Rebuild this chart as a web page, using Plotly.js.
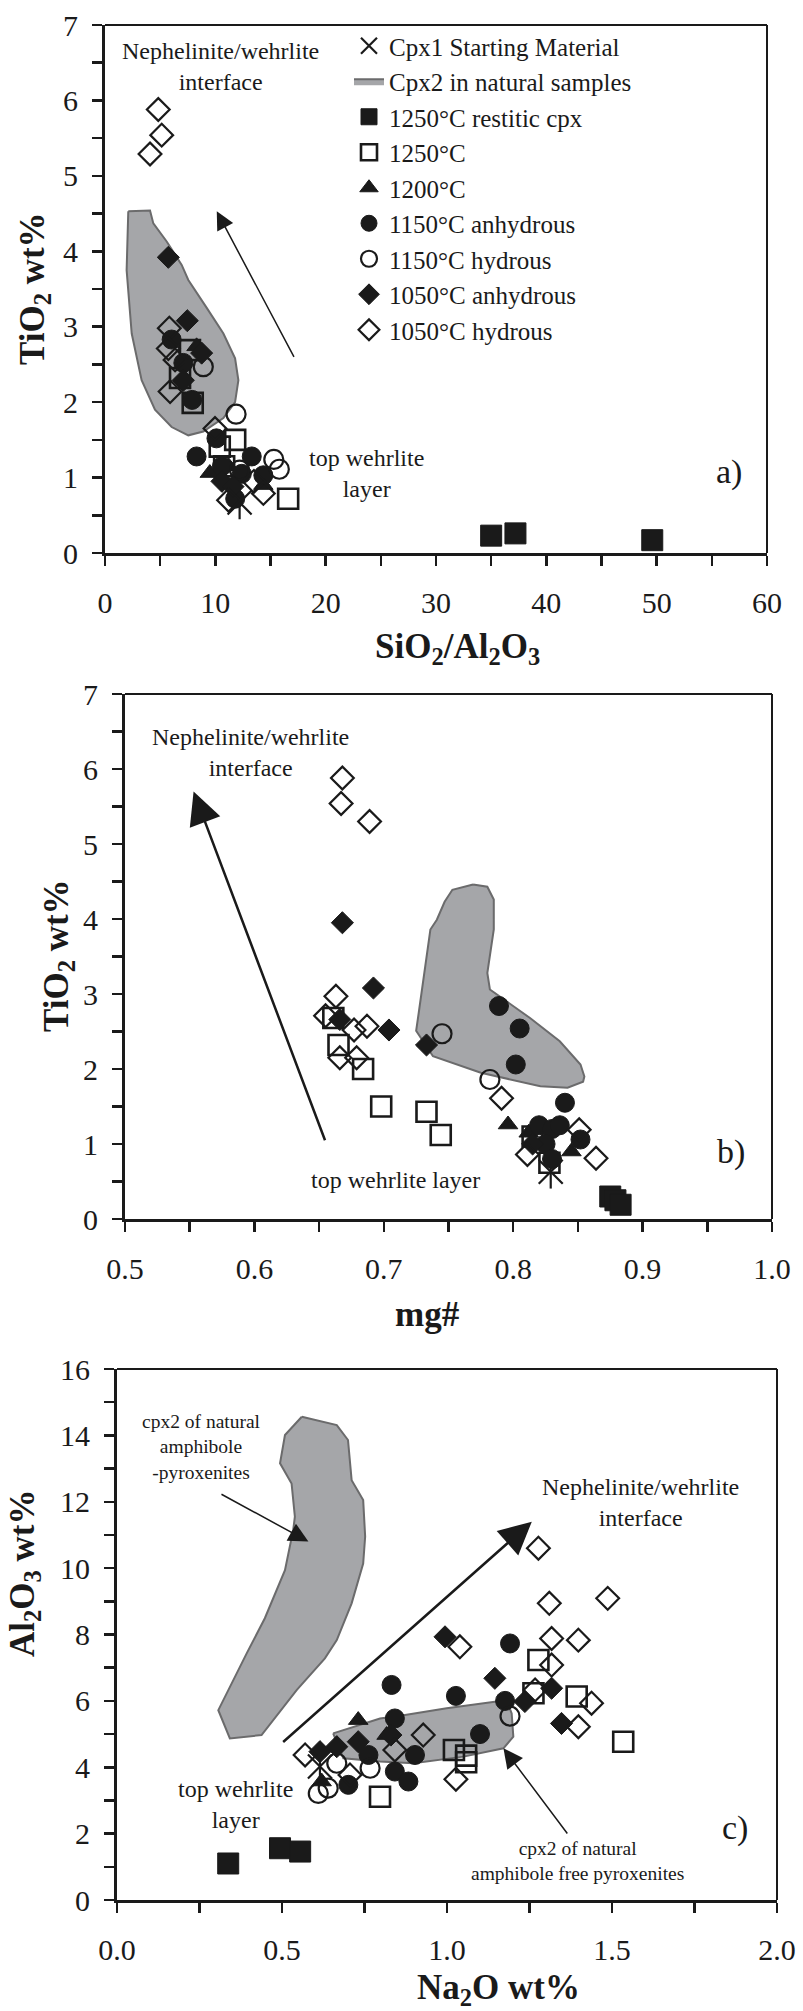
<!DOCTYPE html>
<html><head><meta charset="utf-8">
<script src="https://cdn.plot.ly/plotly-3.0.1.min.js"></script>
<style>html,body{margin:0;padding:0;background:#fff}</style>
</head><body>
<div id="chart" style="width:803px;height:2011px"></div>
<script>
// ---------- legend / series names ----------
const seriesNames = ["Cpx1 Starting Material", "Cpx2 in natural samples", "1250°C restitic cpx", "1250°C",
  "1200°C", "1150°C anhydrous", "1150°C hydrous", "1050°C anhydrous", "1050°C hydrous"];

// ---------- panel a: SiO2/Al2O3 vs TiO2 ----------
const aStarX = [12.2], aStarY = [0.67];
const aRestX = [35.0, 37.2, 49.6], aRestY = [0.23, 0.26, 0.17];
const a1250X = [7.7, 6.8, 7.95, 11.8, 10.4, 16.6, 10.8], a1250Y = [2.69, 2.32, 1.99, 1.50, 1.41, 0.72, 1.15];
const a1200X = [8.3, 9.5, 14.35, 11.2], a1200Y = [2.74, 1.06, 0.90, 1.15];
const a1150aX = [6.04, 7.1, 7.9, 10.1, 8.3, 13.3, 14.35, 11.8, 10.6, 12.4], a1150aY = [2.83, 2.52, 2.03, 1.52, 1.28, 1.28, 1.03, 0.72, 1.15, 1.05];
const a1150hX = [8.91, 11.88, 15.3, 15.8, 12.2], a1150hY = [2.47, 1.84, 1.24, 1.11, 1.10];
const a1050aX = [5.74, 7.46, 8.76, 7.1, 10.6, 11.6], a1050aY = [3.92, 3.08, 2.65, 2.29, 0.95, 0.88];
const a1050hX = [4.83, 5.14, 4.08, 5.83, 5.74, 6.35, 5.9, 9.97, 13.5, 14.35, 11.2], a1050hY = [5.88, 5.54, 5.29, 2.98, 2.71, 2.56, 2.14, 1.65, 0.95, 0.79, 0.70];
const aFieldX = [2.11, 4.08, 4.38, 5.59, 6.95, 7.55, 9.22, 10.73, 11.79, 12.09, 11.79, 10.73, 8.91, 7.55, 6.04, 4.53, 3.32, 2.42, 1.96, 2.11];
const aFieldY = [4.53, 4.54, 4.37, 4.13, 3.82, 3.62, 3.25, 2.91, 2.58, 2.29, 2.00, 1.79, 1.61, 1.56, 1.67, 1.90, 2.29, 2.91, 3.75, 4.53];

// ---------- panel b: mg# vs TiO2 ----------
const bStarX = [0.829], bStarY = [0.63];
const bRestX = [0.875, 0.879, 0.883], bRestY = [0.30, 0.25, 0.19];
const b1250X = [0.661, 0.665, 0.684, 0.698, 0.733, 0.744, 0.815, 0.828], b1250Y = [2.68, 2.32, 2.00, 1.50, 1.43, 1.12, 1.10, 0.75];
const b1200X = [0.796, 0.845, 0.812], b1200Y = [1.26, 0.90, 1.15];
const b1150aX = [0.789, 0.805, 0.802, 0.840, 0.852, 0.820, 0.830, 0.825, 0.830, 0.836], b1150aY = [2.84, 2.54, 2.06, 1.55, 1.06, 1.25, 1.20, 1.00, 0.80, 1.25];
const b1150hX = [0.745, 0.782], b1150hY = [2.47, 1.86];
const b1050aX = [0.668, 0.692, 0.666, 0.704, 0.733, 0.815], b1050aY = [3.95, 3.08, 2.66, 2.52, 2.32, 1.00];
const b1050hX = [0.668, 0.667, 0.689, 0.663, 0.655, 0.677, 0.687, 0.666, 0.679, 0.791, 0.851, 0.811, 0.864], b1050hY = [5.88, 5.54, 5.30, 2.97, 2.71, 2.52, 2.57, 2.15, 2.15, 1.61, 1.19, 0.86, 0.81];
const bFieldX = [0.769, 0.780, 0.785, 0.785, 0.780, 0.782, 0.813, 0.836, 0.852, 0.855, 0.854, 0.842, 0.821, 0.775, 0.738, 0.725, 0.727, 0.736, 0.741, 0.747, 0.753, 0.769];
const bFieldY = [4.46, 4.43, 4.26, 3.86, 3.28, 3.06, 2.68, 2.37, 2.06, 1.90, 1.83, 1.75, 1.77, 1.95, 2.17, 2.51, 2.75, 3.86, 3.99, 4.23, 4.39, 4.46];

// ---------- panel c: Na2O vs Al2O3 ----------
const cStarX = [0.615], cStarY = [4.02];
const cRestX = [0.337, 0.494, 0.555], cRestY = [1.10, 1.56, 1.46];
const c1250X = [1.277, 1.262, 1.393, 1.534, 1.021, 1.058, 1.058, 0.797], c1250Y = [7.23, 6.23, 6.13, 4.77, 4.52, 4.35, 4.15, 3.11];
const c1200X = [0.731, 0.817, 0.620], c1200Y = [5.42, 4.97, 3.57];
const c1150aX = [1.191, 0.832, 1.027, 1.176, 0.842, 1.100, 0.903, 0.762, 0.842, 0.883, 0.701], c1150aY = [7.73, 6.48, 6.15, 6.00, 5.47, 5.00, 4.37, 4.37, 3.87, 3.57, 3.47];
const c1150hX = [1.191, 0.666, 0.767, 0.640, 0.610], c1150hY = [5.54, 4.12, 3.97, 3.37, 3.21];
const c1050aX = [0.994, 1.145, 1.317, 1.236, 1.347, 0.731, 0.666, 0.615, 0.830], c1050aY = [7.93, 6.68, 6.38, 5.98, 5.32, 4.77, 4.62, 4.47, 4.97];
const c1050hX = [1.277, 1.310, 1.487, 1.039, 1.317, 1.398, 1.317, 1.267, 1.438, 1.398, 0.928, 0.842, 1.027, 0.570, 0.706], c1050hY = [10.6, 8.94, 9.09, 7.63, 7.88, 7.83, 7.08, 6.33, 5.93, 5.22, 4.97, 4.52, 3.64, 4.37, 3.77];
const cAmphX = [0.560, 0.666, 0.700, 0.711, 0.746, 0.752, 0.746, 0.711, 0.666, 0.630, 0.545, 0.438, 0.342, 0.307, 0.393, 0.448, 0.509, 0.534, 0.539, 0.529, 0.494, 0.509, 0.560];
const cAmphY = [14.56, 14.31, 13.86, 12.65, 12.05, 10.95, 10.14, 8.94, 7.83, 7.28, 6.33, 4.97, 4.87, 5.72, 7.43, 8.49, 9.94, 11.15, 11.55, 12.55, 13.16, 14.01, 14.56];
const cFreeX = [0.655, 0.797, 0.868, 0.999, 1.150, 1.186, 1.196, 1.201, 1.171, 1.050, 0.898, 0.797, 0.686, 0.655];
const cFreeY = [5.02, 5.47, 5.57, 5.78, 5.98, 5.88, 5.62, 4.92, 4.57, 4.32, 4.12, 4.17, 4.27, 5.02];

// ---------- styling ----------
const INK = '#1a1a1a';
const SERIF = 'Liberation Serif';
const FIELD_FILL = '#a5a6a9', FIELD_LINE = '#6b6b6c';
const styles = [
  {symbol: 'x-thin-open', size: 24, lw: 2.2},
  null,
  {symbol: 'square', size: 21, lw: 1},
  {symbol: 'square-open', size: 20, lw: 2.6},
  {symbol: 'triangle-up', size: 17, lw: 1},
  {symbol: 'circle', size: 19, lw: 1},
  {symbol: 'circle-open', size: 19, lw: 2.2},
  {symbol: 'diamond', size: 17, lw: 1},
  {symbol: 'diamond-open', size: 17.5, lw: 2.2}
];

const W = 803, H = 2011;
const px = v => v / W, py = v => 1 - v / H;

const traces = [];
function field(xs, ys, xa, ya, show) {
  traces.push({type: 'scatter', mode: 'lines', x: xs, y: ys, xaxis: xa, yaxis: ya,
    fill: 'toself', fillcolor: FIELD_FILL, line: {color: FIELD_LINE, width: 2},
    name: seriesNames[1], showlegend: !!show, legendrank: 2, hoverinfo: 'skip'});
}
function pts(i, xs, ys, xa, ya, show) {
  const s = styles[i];
  traces.push({type: 'scatter', mode: 'markers', x: xs, y: ys, xaxis: xa, yaxis: ya,
    name: seriesNames[i], showlegend: show, legendrank: i + 1,
    marker: {symbol: s.symbol, size: s.size, color: INK, line: {color: INK, width: s.lw}}});
  if (i === 0) {
    traces.push({type: 'scatter', mode: 'markers', x: xs, y: ys, xaxis: xa, yaxis: ya, showlegend: false,
      marker: {symbol: 'line-ns-open', size: s.size, color: INK, line: {color: INK, width: s.lw}}});
  }
}
const panels = [
  {xa: 'x', ya: 'y', f: [[aFieldX, aFieldY]], d: [[aStarX, aStarY], null, [aRestX, aRestY], [a1250X, a1250Y], [a1200X, a1200Y], [a1150aX, a1150aY], [a1150hX, a1150hY], [a1050aX, a1050aY], [a1050hX, a1050hY]]},
  {xa: 'x2', ya: 'y2', f: [[bFieldX, bFieldY]], d: [[bStarX, bStarY], null, [bRestX, bRestY], [b1250X, b1250Y], [b1200X, b1200Y], [b1150aX, b1150aY], [b1150hX, b1150hY], [b1050aX, b1050aY], [b1050hX, b1050hY]]},
  {xa: 'x3', ya: 'y3', f: [[cAmphX, cAmphY], [cFreeX, cFreeY]], d: [[cStarX, cStarY], null, [cRestX, cRestY], [c1250X, c1250Y], [c1200X, c1200Y], [c1150aX, c1150aY], [c1150hX, c1150hY], [c1050aX, c1050aY], [c1050hX, c1050hY]]}
];
panels.forEach((p, k) => {
  p.f.forEach((f, j) => field(f[0], f[1], p.xa, p.ya, k === 0 && j === 0));
  p.d.forEach((d, i) => { if (d) pts(i, d[0], d[1], p.xa, p.ya, k === 0); });
});

function axis(dom, range, dtick, minor, fmt, isX, anchor) {
  return {domain: dom, range: range, dtick: dtick, tick0: 0, tickformat: fmt, anchor: anchor,
    showgrid: false, zeroline: false, showline: true, linecolor: INK, linewidth: 3, mirror: false,
    ticks: 'outside', ticklen: 10, tickwidth: 2.5, tickcolor: INK,
    minor: {dtick: minor, tick0: 0, ticks: 'outside', ticklen: 10, tickwidth: 2.5, tickcolor: INK, showgrid: false},
    tickfont: {family: SERIF, size: 30, color: INK},
    ticklabelstandoff: isX ? 11 : 8, fixedrange: true};
}

const layout = {
  width: W, height: H, margin: {l: 0, r: 0, t: 0, b: 0},
  font: {family: SERIF, color: INK},
  paper_bgcolor: '#fff', plot_bgcolor: '#fff', showlegend: true, hovermode: false,
  xaxis: axis([px(105), px(767)], [0, 60], 10, 5, 'd', true, 'y'),
  yaxis: axis([py(553), py(25)], [0, 7], 1, 0.5, 'd', false, 'x'),
  xaxis2: axis([px(125), px(772)], [0.5, 1.0], 0.1, 0.05, '.1f', true, 'y2'),
  yaxis2: axis([py(1219), py(694)], [0, 7], 1, 0.5, 'd', false, 'x2'),
  xaxis3: axis([px(117), px(777)], [0, 2], 0.5, 0.25, '.1f', true, 'y3'),
  yaxis3: axis([py(1900), py(1369)], [0, 16], 2, 1, 'd', false, 'x3'),
  legend: {x: px(349), y: py(23), xanchor: 'left', yanchor: 'top', bgcolor: 'rgba(0,0,0,0)', borderwidth: 0,
    tracegroupgap: 0, font: {family: SERIF, size: 25, color: INK}},
  shapes: [],
  annotations: []
};
[['x', 'y'], ['x2', 'y2'], ['x3', 'y3']].forEach(([xa, ya]) => {
  layout.shapes.push({type: 'line', xref: xa + ' domain', yref: ya + ' domain', x0: 0, x1: 1, y0: 1, y1: 1, line: {color: INK, width: 2}});
  layout.shapes.push({type: 'line', xref: xa + ' domain', yref: ya + ' domain', x0: 1, x1: 1, y0: 0, y1: 1, line: {color: INK, width: 2}});
});

const A = layout.annotations;
function txt(xa, ya, x, y, t, size) {
  A.push({xref: xa, yref: ya, x: x, y: y, text: t, showarrow: false, xanchor: 'center', yanchor: 'middle',
    font: {family: SERIF, size: size || 24, color: INK}});
}
function arrow(xa, ya, x, y, ax, ay, w, s) {
  A.push({xref: xa, yref: ya, axref: xa, ayref: ya, x: x, y: y, ax: ax, ay: ay, text: '', showarrow: true,
    arrowhead: 2, arrowsize: s, arrowwidth: w, arrowcolor: INK, standoff: 0, startstandoff: 0});
}
function title(pxX, pxY, t, rot) {
  A.push({xref: 'paper', yref: 'paper', x: px(pxX), y: py(pxY), text: t, showarrow: false, textangle: rot || 0,
    xanchor: 'center', yanchor: 'middle', font: {family: SERIF, size: 35, color: INK, weight: 'bold'}});
}
// panel a
txt('x', 'y', 10.5, 6.45, 'Nephelinite/wehrlite<br>interface');
arrow('x', 'y', 10.13, 4.53, 17.2, 2.58, 1.5, 2.4);
txt('x', 'y', 23.7, 1.06, 'top wehrlite<br>layer');
txt('x', 'y', 56.6, 1.07, 'a)', 34);
title(457, 648, 'SiO<sub>2</sub>/Al<sub>2</sub>O<sub>3</sub>');
title(35, 289, 'TiO<sub>2</sub> wt%', -90);
// panel b
txt('x2', 'y2', 0.597, 6.22, 'Nephelinite/wehrlite<br>interface');
arrow('x2', 'y2', 0.553, 5.70, 0.655, 1.03, 2.5, 2.6);
txt('x2', 'y2', 0.709, 0.52, 'top wehrlite layer');
txt('x2', 'y2', 0.968, 0.90, 'b)', 34);
title(427, 1314, 'mg#');
title(58, 956, 'TiO<sub>2</sub> wt%', -90);
// panel c
txt('x3', 'y3', 1.586, 11.99, 'Nephelinite/wehrlite<br>interface');
arrow('x3', 'y3', 1.257, 11.4, 0.499, 4.72, 2.5, 2.6);
txt('x3', 'y3', 0.257, 13.65, 'cpx2 of natural<br>amphibole<br>-pyroxenites', 19.5);
arrow('x3', 'y3', 0.58, 10.8, 0.312, 12.25, 1.5, 2.6);
txt('x3', 'y3', 0.36, 2.89, 'top wehrlite<br>layer');
txt('x3', 'y3', 1.395, 1.18, 'cpx2 of natural<br>amphibole free pyroxenites', 19.5);
arrow('x3', 'y3', 1.171, 4.57, 1.368, 1.96, 1.5, 2.6);
txt('x3', 'y3', 1.873, 2.16, 'c)', 34);
title(498, 1989, 'Na<sub>2</sub>O wt%');
title(24, 1574, 'Al<sub>2</sub>O<sub>3</sub> wt%', -90);

Plotly.newPlot('chart', traces, layout, {staticPlot: true, displayModeBar: false});
</script>
</body></html>
